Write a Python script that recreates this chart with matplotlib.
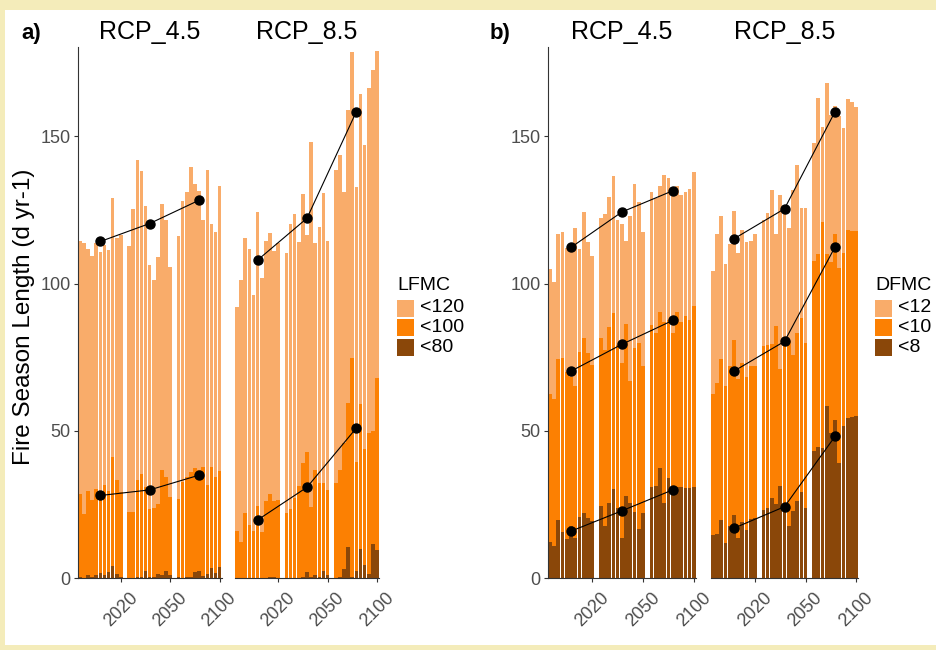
import matplotlib
matplotlib.use("Agg")
import matplotlib.pyplot as plt
from matplotlib.patches import Rectangle
import numpy as np

plt.rcParams['font.family'] = ['Liberation Sans', 'DejaVu Sans']

# ---------------- data ----------------
facets = ["RCP_4.5", "RCP_8.5"]
tick_labels = ["2020", "2050", "2100"]
legend_a = ["<120", "<100", "<80"]
legend_b = ["<12", "<10", "<8"]

# panel a (LFMC) yearly values, 3 periods x 11 years
a45_120 = [114.5,113.9,111.7,109.3,113.7,110.6,113.0,111.4,129.2,115.4,116.5,
           112.6,125.3,142.0,138.3,126.4,106.4,101.3,109.0,127.1,121.6,105.5,
           116.2,128.1,131.0,139.6,133.8,131.6,121.6,138.6,120.1,117.6,133.2]
a45_100 = [28.5,21.8,29.6,26.6,30.2,28.6,31.6,29.6,41.3,33.4,29.4,
           22.4,22.4,33.4,35.3,31.1,23.4,23.7,25.1,36.7,34.5,27.7,
           26.8,32.8,34.5,36.2,37.5,36.7,37.9,31.6,37.9,34.5,36.5]
a45_80 = [0.3,0.0,1.0,0.3,1.2,1.8,1.2,2.3,4.3,1.5,0.4,
          0.2,0.0,0.3,0.5,2.6,0.6,0.3,1.5,1.0,2.5,1.2,
          0.3,0.0,0.5,0.3,2.0,2.6,0.8,1.5,3.5,1.8,3.8]
a85_120 = [91.9,101.3,115.4,111.6,96.1,124.2,102.0,114.5,117.3,111.1,113.7,
           110.3,120.2,123.6,114.2,130.4,116.5,147.9,113.7,119.1,130.9,114.5,
           138.6,143.6,131.2,158.9,178.5,132.9,164.3,147.0,166.4,172.6,178.8]
a85_100 = [16.2,12.2,22.3,18.1,16.2,24.5,15.8,26.3,28.7,26.3,26.6,
           22.0,23.5,27.3,31.3,39.2,43.0,24.3,36.7,32.2,32.4,29.9,
           32.4,36.7,45.8,59.4,74.9,39.5,59.1,43.9,49.4,50.0,67.9]
a85_80 = [0.0,0.0,0.0,0.0,0.0,0.0,0.0,0.0,0.3,0.5,0.0,
          0.0,0.0,0.0,0.2,0.5,2.0,0.5,1.2,0.3,2.5,1.0,
          0.0,0.5,3.0,10.5,0.3,2.5,10.0,4.5,1.5,11.5,9.5]

# panel b (DFMC)
b45_12 = [105.0,100.7,116.8,117.5,112.0,111.7,118.8,111.7,124.4,114.0,109.5,
          122.2,123.6,129.5,136.5,121.6,120.3,114.6,122.8,133.8,127.8,117.6,
          131.0,129.0,133.0,137.0,136.0,131.0,133.0,130.0,131.0,132.0,138.0]
b45_10 = [62.4,60.9,74.3,74.9,70.0,68.2,65.4,76.7,81.6,76.4,72.5,
          81.6,77.4,85.2,90.1,79.2,73.1,86.4,67.0,78.0,80.0,72.2,
          85.8,83.2,90.3,87.1,87.7,83.4,90.3,87.1,88.9,87.7,92.5]
b45_8 = [12.4,10.8,19.7,15.7,13.2,17.6,13.6,20.9,22.1,20.5,19.5,
         24.5,17.8,25.7,30.2,23.9,13.6,27.8,25.7,22.5,16.6,22.0,
         31.0,31.4,37.5,25.7,34.2,30.2,31.0,31.0,30.5,30.5,31.0]
b85_12 = [104.4,116.9,122.8,106.6,113.4,124.7,110.3,118.2,114.0,114.3,116.9,
          121.6,123.9,131.8,116.9,130.1,125.0,118.8,131.8,140.3,125.6,125.6,
          147.6,162.9,153.2,168.0,157.3,160.2,156.8,152.7,162.6,161.8,159.9]
b85_10 = [62.4,66.4,74.5,65.4,71.9,80.7,67.6,73.1,68.2,72.2,71.9,
          78.8,79.2,79.5,85.5,70.9,82.0,80.4,75.8,83.4,88.3,80.0,
          107.7,110.1,120.8,110.1,107.4,116.8,105.3,110.4,118.2,118.0,117.9]
b85_8 = [14.8,15.2,19.9,12.0,17.6,21.5,13.8,19.1,16.4,20.0,20.3,
         23.3,23.9,27.3,25.1,31.4,25.1,17.8,22.7,26.3,29.4,24.0,
         43.3,44.6,44.2,58.5,49.4,53.7,39.1,51.8,54.3,54.9,55.0]

# period means (points)
a45_mean_120 = [114.3, 120.4, 128.3]
a45_mean_100 = [28.1, 30.0, 35.0]
a85_mean_120 = [108.0, 122.2, 158.4]
a85_mean_100 = [19.8, 30.9, 51.0]
b45_mean_12 = [112.3, 124.3, 131.5]
b45_mean_10 = [70.3, 79.4, 87.5]
b45_mean_8 = [16.0, 22.9, 30.0]
b85_mean_12 = [115.2, 125.4, 158.4]
b85_mean_10 = [70.3, 80.4, 112.5]
b85_mean_8 = [17.0, 24.3, 48.2]

# ---------------- style ----------------
C_LIGHT = "#F9AC6A"
C_MID = "#FC8002"
C_DARK = "#8A4709"
BORDER = "#F4ECBA"

W, H = 936, 650
fig = plt.figure(figsize=(W/100, H/100), dpi=100, facecolor=BORDER)
fig.patches.append(Rectangle((5/W, 5/H), 1, 1 - 15/H, transform=fig.transFigure,
                             facecolor="white", edgecolor="none", zorder=-10))

def px_axes(x0, x1, y0, y1):
    return fig.add_axes([x0/W, 1 - y1/H, (x1-x0)/W, (y1-y0)/H], zorder=2)

n_per = 11
xpos = np.concatenate([np.arange(n_per) + k*(n_per+1) for k in range(3)])
centers = [k*(n_per+1) + (n_per-1)/2 for k in range(3)]
tick_pos = [k*(n_per+1) + n_per - 1 for k in range(3)]

Y0, Y1 = 47, 578.3
YMAX = 180.3

def draw_facet(ax, series, means, title, first):
    cols = [C_LIGHT, C_MID, C_DARK]
    for vals, c in zip(series, cols):
        ax.bar(xpos, vals, width=0.87, color=c, edgecolor="none", zorder=2)
    for m in means:
        ax.plot(centers, m, color="black", lw=0.8, zorder=3)
        ax.plot(centers, m, "o", color="black", ms=6.5, zorder=4)
    ax.set_xlim(-0.5, 34.5)
    ax.set_ylim(0, YMAX)
    for s in ["top", "right"]:
        ax.spines[s].set_visible(False)
    ax.spines["bottom"].set_color("#333333")
    ax.spines["left"].set_color("#333333")
    ax.set_xticks(tick_pos)
    ax.set_xticklabels(tick_labels, rotation=45, ha="center", va="top",
                       rotation_mode="default", fontsize=13, color="#4d4d4d")
    ax.tick_params(axis="x", length=3, width=0.8, color="#333333", pad=5)
    if first:
        ax.set_yticks([0, 50, 100, 150])
        ax.set_yticklabels(["0", "50", "100", "150"], fontsize=13, color="#4d4d4d")
        ax.tick_params(axis="y", length=3, width=0.8, color="#333333", pad=2)
    else:
        ax.spines["left"].set_visible(False)
        ax.set_yticks([])
    ax.set_title(title, fontsize=18, pad=6, color="black")
    ax.patch.set_alpha(0)

# panel a
ax1 = px_axes(77.7, 221.7, Y0, Y1)
draw_facet(ax1, [a45_120, a45_100, a45_80], [a45_mean_120, a45_mean_100], facets[0], True)
ax2 = px_axes(235, 379, Y0, Y1)
draw_facet(ax2, [a85_120, a85_100, a85_80], [a85_mean_120, a85_mean_100], facets[1], False)
# panel b
ax3 = px_axes(547.7, 696, Y0, Y1)
draw_facet(ax3, [b45_12, b45_10, b45_8], [b45_mean_12, b45_mean_10, b45_mean_8], facets[0], True)
ax4 = px_axes(710.7, 858.3, Y0, Y1)
draw_facet(ax4, [b85_12, b85_10, b85_8], [b85_mean_12, b85_mean_10, b85_mean_8], facets[1], False)

fig.text(24/W, 1 - 317/H, "Fire Season Length (d yr-1)", rotation=90,
         ha="center", va="center", fontsize=17.5)
fig.text(21/W, 1 - 33/H, "a)", fontsize=16, fontweight="bold", ha="left", va="center")
fig.text(490/W, 1 - 33/H, "b)", fontsize=16, fontweight="bold", ha="left", va="center")

def legend(x, title, labels):
    fig.text(x/W, 1 - 285/H, title, fontsize=14, ha="left", va="center")
    for i, (lab, c) in enumerate(zip(labels, [C_LIGHT, C_MID, C_DARK])):
        yc = 308 + i*19.5
        fig.patches.append(Rectangle((x/W, 1 - (yc+8.5)/H), 17/W, 17/H,
                                     transform=fig.transFigure, facecolor=c,
                                     edgecolor="none"))
        fig.text((x+23)/W, 1 - yc/H, lab, fontsize=14, ha="left", va="center")

legend(397, "LFMC", legend_a)
legend(875, "DFMC", legend_b)

fig.savefig("out.png", dpi=100, facecolor=fig.get_facecolor())
